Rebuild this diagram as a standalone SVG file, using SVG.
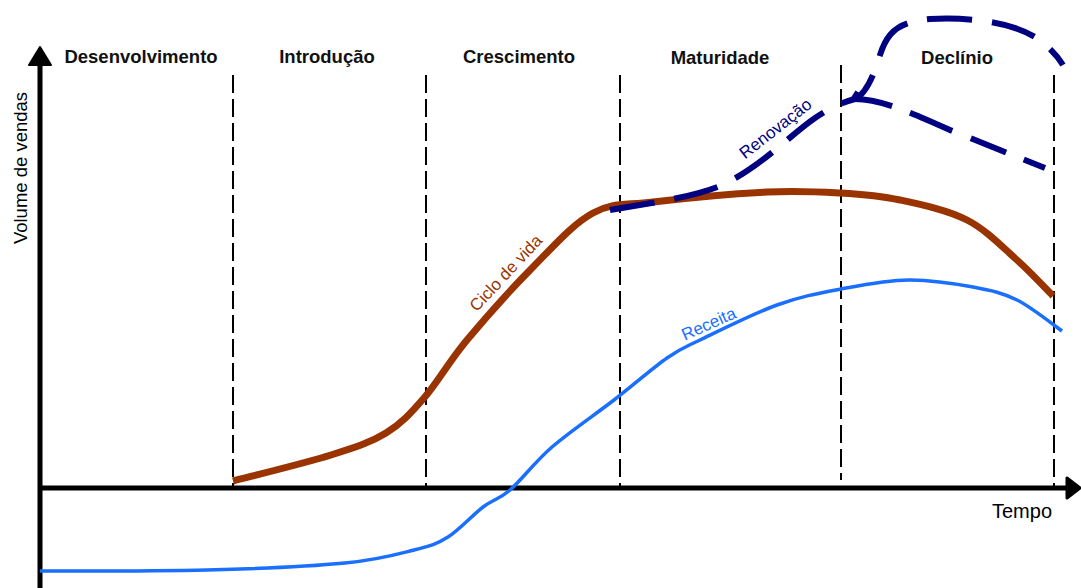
<svg xmlns="http://www.w3.org/2000/svg" width="1081" height="588" viewBox="0 0 1081 588">
<style>
.phase{font-family:"Liberation Sans",Arial,sans-serif;font-weight:bold;font-size:18.5px;fill:#111;text-anchor:middle}
.lbl{font-family:"Liberation Sans",Arial,sans-serif;font-size:17px;text-anchor:middle}
.div{stroke:#000;stroke-width:2;stroke-dasharray:18 6;fill:none}
.ren{stroke:#000080;stroke-width:6;fill:none}
</style>
<rect width="1081" height="588" fill="#fff"/>
<g id="dividers">
<line class="div" x1="233" y1="75" x2="233" y2="487"/>
<line class="div" x1="426" y1="75" x2="426" y2="487"/>
<line class="div" x1="620" y1="75" x2="620" y2="487"/>
<line class="div" x1="841" y1="65" x2="841" y2="480"/>
<line class="div" x1="1054" y1="75" x2="1054" y2="487"/>
</g>
<g id="phases">
<text class="phase" x="141" y="63">Desenvolvimento</text>
<text class="phase" x="327" y="63">Introdução</text>
<text class="phase" x="519" y="63">Crescimento</text>
<text class="phase" x="720" y="64">Maturidade</text>
<text class="phase" x="957" y="64">Declínio</text>
</g>
<g id="axes">
<line x1="40" y1="62" x2="40" y2="588" stroke="#000" stroke-width="5"/>
<polygon points="40,47 51,65 29,65" fill="#000" stroke="#000" stroke-width="2" stroke-linejoin="round"/>
<line x1="40" y1="488" x2="1068" y2="488" stroke="#000" stroke-width="5"/>
<polygon points="1080,488 1067,478 1067,498" fill="#000" stroke="#000" stroke-width="3" stroke-linejoin="round"/>
<text x="27" y="168" transform="rotate(-90 27 168)" class="lbl" style="font-size:18.5px;fill:#000">Volume de vendas</text>
<text x="1052" y="518" class="lbl" style="font-size:20px;fill:#000;text-anchor:end">Tempo</text>
</g>
<g id="receita">
<path d="M40,571 C68,571 156,571.3 207,570 C258,568.7 310.5,566.3 345,563 C379.5,559.7 396.8,554.3 414,550 C431.2,545.7 436.5,544.2 448,537 C459.5,529.8 472.7,514.8 483,507 C493.3,499.2 498.5,500 510,490 C521.5,480 534.7,462 552,447 C569.3,432 594.8,414.8 614,400 C633.2,385.2 652.7,368 667,358 C681.3,348 681.7,348.8 700,340 C718.3,331.2 753.5,313.5 777,305 C800.5,296.5 818.8,293.2 841,289 C863.2,284.8 888,279.7 910,280 C932,280.3 955.2,283.7 973,287 C990.8,290.3 1002.2,292.7 1017,300 C1031.8,307.3 1054.5,325.8 1062,331" fill="none" stroke="#1a6fff" stroke-width="3.5"/>
<text class="lbl" x="711" y="329" transform="rotate(-24 711 329)" fill="#1a6fff">Receita</text>
</g>
<g id="ciclo">
<path d="M233,481 C249.3,476.7 305.5,463 331,455 C356.5,447 370.5,442.5 386,433 C401.5,423.5 410.5,413.5 424,398 C437.5,382.5 448.8,361.8 467,340 C485.2,318.2 512,288.2 533,267 C554,245.8 573,223.8 593,213 C613,202.2 624,205.5 653,202 C682,198.5 735.8,193.5 767,192 C798.2,190.5 817.8,191.7 840,193 C862.2,194.3 878.8,195.5 900,200 C921.2,204.5 947.5,210 967,220 C986.5,230 1002.7,247.3 1017,260 C1031.3,272.7 1047,290 1053,296" fill="none" stroke="#993300" stroke-width="7"/>
<text class="lbl" x="510" y="277" transform="rotate(-47 510 277)" fill="#993300">Ciclo de vida</text>
</g>
<g id="renovacao">
<path class="ren" stroke-dasharray="45 20" d="M610,210 C650,203 690,198 720,186 C760,168 790,135 815,118 C830,108 840,103 855,99 C866,94 874,75 880,55 C888,30 900,22 930,19 C970,17 1010,22 1035,37 C1050,47 1058,57 1063,65"/>
<path class="ren" stroke-dasharray="38 19 46 20" d="M855,99 C880,99 910,112 950,130 L1045,168"/>
<path class="ren" d="M853,100 L858,92"/>
<text class="lbl" x="779" y="133" transform="rotate(-38 779 133)" fill="#000080">Renovação</text>
</g>
</svg>
